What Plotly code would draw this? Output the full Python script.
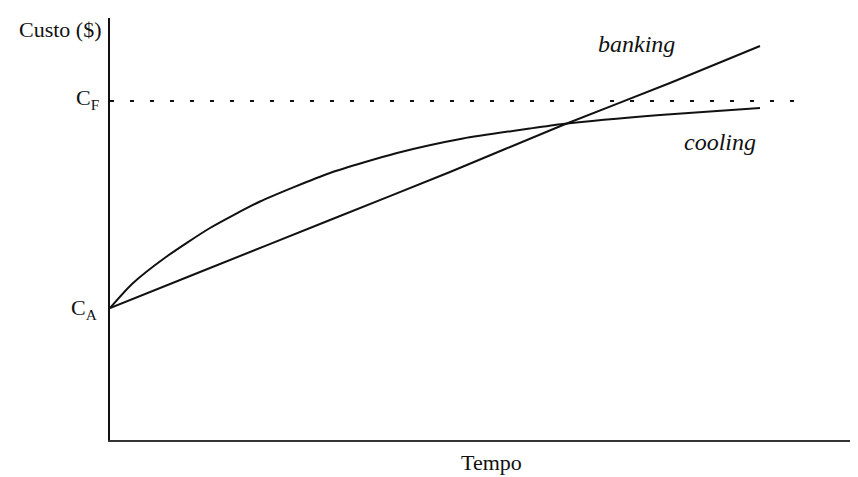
import plotly.graph_objects as go

# Data (arbitrary units: time vs cost)
tempo_cooling = [0, 22, 56, 100, 150, 220, 287, 353, 420, 453, 550, 650]
custo_cooling = [132, 156, 183, 212, 238.5, 267, 287, 301.5, 311.5, 316, 325, 332]
tempo_banking = [0, 90, 220, 340, 453, 560, 650]
custo_banking = [132, 168, 220, 268, 315, 357, 394]
C_A = 132
C_F = 339
tempo_cf = [0, 688]

FONT = "Liberation Serif"

fig = go.Figure()
fig.add_trace(go.Scatter(x=tempo_cf, y=[C_F, C_F], mode="lines",
                         line=dict(color="#111", width=2, dash="4px,16px"),
                         hoverinfo="skip"))
fig.add_trace(go.Scatter(x=tempo_cooling, y=custo_cooling, mode="lines",
                         line=dict(color="#111", width=2, shape="spline", smoothing=0.6),
                         name="cooling"))
fig.add_trace(go.Scatter(x=tempo_banking, y=custo_banking, mode="lines",
                         line=dict(color="#111", width=2, shape="spline", smoothing=0.5),
                         name="banking"))

annots = [
    dict(text="Custo ($)", xref="paper", yref="paper", x=0, y=1, xanchor="right",
         yanchor="middle", xshift=-6, yshift=-11, font=dict(size=22)),
    dict(text="C<sub>F</sub>", xref="paper", yref="y", x=0, y=C_F, xanchor="right",
         yanchor="middle", xshift=-9, yshift=2, font=dict(size=22)),
    dict(text="C<sub>A</sub>", xref="paper", yref="y", x=0, y=C_A, xanchor="right",
         yanchor="middle", xshift=-11, yshift=-1, font=dict(size=22)),
    dict(text="Tempo", xref="paper", yref="paper", x=(491 - 110) / 748, y=0,
         xanchor="center", yanchor="middle", yshift=-22, font=dict(size=22)),
    dict(text="<i>banking</i>", xref="x", yref="y", x=526, y=396,
         xanchor="center", yanchor="middle", font=dict(size=24)),
    dict(text="<i>cooling</i>", xref="x", yref="y", x=610, y=298,
         xanchor="center", yanchor="middle", font=dict(size=24)),
]
for a in annots:
    a["showarrow"] = False
    a["font"]["family"] = FONT
    a["font"]["color"] = "#111"

# page body has an 8px margin, so the figure is sized/offset to compensate
fig.update_layout(
    width=850, height=469,
    margin=dict(l=102, r=0, t=10, b=37),
    paper_bgcolor="white", plot_bgcolor="white",
    showlegend=False,
    annotations=annots,
    xaxis=dict(range=[0, 748], showgrid=False, zeroline=False, showticklabels=False,
               ticks="", showline=True, linecolor="#333", linewidth=2),
    yaxis=dict(range=[0, 422], showgrid=False, zeroline=False, showticklabels=False,
               ticks="", showline=True, linecolor="#111", linewidth=2),
    font=dict(family=FONT),
)

fig.write_html("out.html")
